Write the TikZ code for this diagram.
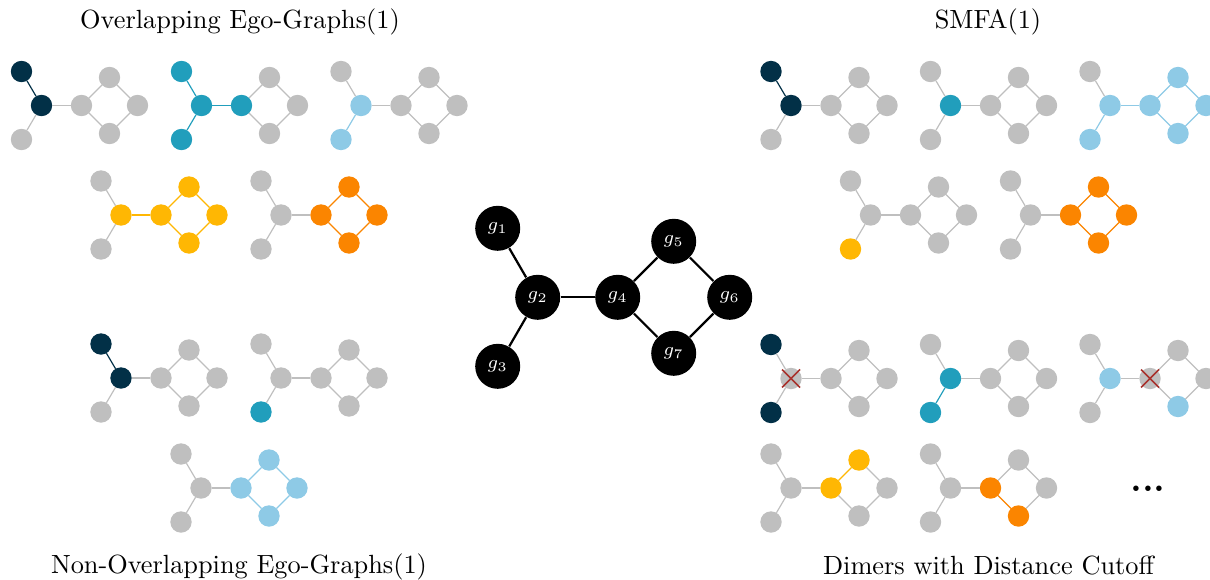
\documentclass[tikz,border=0pt]{standalone}
\begin{document}
\definecolor{pal0}{HTML}{BFBFBF}
\definecolor{pal1}{HTML}{023047}
\definecolor{pal2}{HTML}{219EBC}
\definecolor{pal3}{HTML}{8ECAE6}
\definecolor{pal4}{HTML}{FFB703}
\definecolor{pal5}{HTML}{FB8500}
\definecolor{crossred}{HTML}{A8322D}
\tikzset{
  atom/.style={circle, inner sep=0pt, minimum size=8.13pt, outer sep=0pt},
  bond/.style={line width=0.45pt},
  bigatom/.style={circle, fill=black, inner sep=0pt, minimum size=17.1pt, text=white, font=\scriptsize},
  bigbond/.style={line width=0.85pt, draw=black},
  cut/.style={draw=crossred, line width=0.6pt},
  title/.style={font=\normalsize},
  ellipsis/.style={font=\Large\bfseries, inner sep=0pt},
}
% A small molecule: name, x and y of atom 2, colour codes of atoms 1..7.
% A bond takes the colour of its atoms when both share it, grey otherwise.
\newcommand\molecule[4]{%
  \foreach \c [count=\i] in {#4} {\expandafter\xdef\csname molc\i\endcsname{\c}}%
  \foreach \i/\dx/\dy in {1/-20/-34, 2/0/0, 3/-20/34, 4/40/0, 5/68/-28, 6/96/0, 7/68/28}{%
    \edef\fillc{pal\csname molc\i\endcsname}%
    \node[atom, fill=\fillc] (#1\i) at (#2+\dx, #3+\dy) {};}%
  \foreach \a/\b in {1/2,2/3,2/4,4/5,5/6,6/7,7/4}{%
    \ifnum\csname molc\a\endcsname=\csname molc\b\endcsname\relax
      \edef\edgec{pal\csname molc\a\endcsname}%
    \else
      \def\edgec{pal0}%
    \fi
    \draw[bond, draw=\edgec] (#1\a) -- (#1\b);}%
}
\newcommand\cutatom[1]{\draw[cut] (#1) +(-9,-9) -- +(9,9) (#1) +(-9,9) -- +(9,-9);}
\begin{tikzpicture}[x=0.38pt, y=-0.38pt]
\useasboundingbox (0,0) rectangle (1210,580);
\clip (0,0) rectangle (1210,580);

% titles
\node[title] (tOEG) at (240,22) {Overlapping Ego-Graphs(1)};
\node[title] (tSMFA) at (988,22) {SMFA(1)};
\node[title] (tNOEG) at (239,567) {Non-Overlapping Ego-Graphs(1)};
\node[title] (tDIM) at (988.5,566) {Dimers with Distance Cutoff};

% overlapping ego-graphs
\molecule{oa}{41.5}{105.5}{1,1,0,0,0,0,0}
\molecule{ob}{201.5}{105.5}{2,2,2,2,0,0,0}
\molecule{oc}{361}{105.5}{0,3,3,0,0,0,0}
\molecule{od}{121}{215}{0,4,0,4,4,4,4}
\molecule{oe}{281}{215}{0,0,0,5,5,5,5}

% non-overlapping ego-graphs
\molecule{na}{121}{378}{1,1,0,0,0,0,0}
\molecule{nb}{281}{378}{0,0,2,0,0,0,0}
\molecule{nc}{201}{488}{0,0,0,3,3,3,3}

% SMFA(1)
\molecule{sa}{791}{105.5}{1,1,0,0,0,0,0}
\molecule{sb}{950.5}{105.5}{0,2,0,0,0,0,0}
\molecule{sc}{1110}{105.5}{0,3,3,3,3,3,3}
\molecule{sd}{870.5}{215}{0,0,4,0,0,0,0}
\molecule{se}{1030.5}{215}{0,0,0,5,5,5,5}

% dimers with distance cutoff
\molecule{da}{791}{378.5}{1,0,1,0,0,0,0}
\cutatom{da2}
\molecule{db}{950.5}{378.5}{0,2,2,0,0,0,0}
\molecule{dc}{1110}{378.5}{0,3,0,0,0,0,3}
\cutatom{dc4}
\molecule{dd}{791}{488}{0,0,0,4,4,0,0}
\molecule{de}{950.5}{488}{0,0,0,5,0,0,5}
\node[ellipsis, anchor=base] (more) at (1148,491) {...};

% the full molecule
\foreach \i/\dx/\dy in {1/-40/-69, 2/0/0, 3/-40/69, 4/80/0, 5/136/-56, 6/192/0, 7/136/56}
  \node[bigatom] (g\i) at (537.7+\dx, 297.3+\dy) {$g_{\i}$};
\foreach \a/\b in {1/2,2/3,2/4,4/5,5/6,6/7,7/4}
  \draw[bigbond] (g\a) -- (g\b);
\end{tikzpicture}
\end{document}
